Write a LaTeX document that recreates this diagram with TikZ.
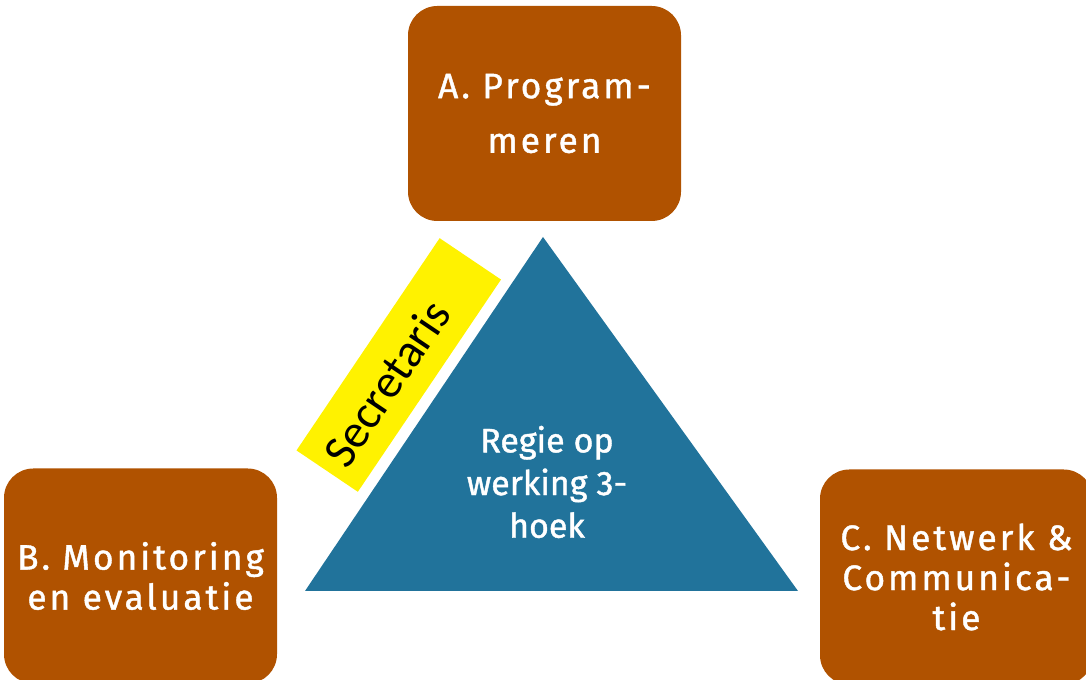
\documentclass[tikz,border=0pt]{standalone}
\usepackage{fontspec}
\setmainfont[FakeBold=1.2]{Fira Sans}
\newfontfamily\boxfont[LetterSpace=8.5,FakeBold=1.2]{Fira Sans}
\newfontfamily\secfont{Carlito}
\definecolor{boxbrown}{RGB}{176,82,0}
\definecolor{triblue}{RGB}{33,115,155}

\begin{document}
\begin{tikzpicture}[x=0.75pt,y=0.75pt,
    box/.style={fill=boxbrown, rounded corners=22pt, minimum width=204.75pt,
      minimum height=161.25pt, text=white, align=center,
      font=\boxfont\fontsize{26.5}{30}\selectfont},
    boxA/.style={box, font=\boxfont\fontsize{26.5}{41}\selectfont}]
              \useasboundingbox (0,0) rectangle (1086,680);

              \node[boxA] (A) at (544.5,566.5) {A. Program-\\meren};
              \node[box]  (B) at (140.5,104)   {B. Monitoring\\en evaluatie};
              \node[box]  (C) at (956.5,103)   {C. Netwerk \&\\Communica-\\tie};

              \coordinate (T1) at (543,443);
              \coordinate (T2) at (305,89);
              \coordinate (T3) at (798,89);
              \fill[triblue] (T1) -- (T2) -- (T3) -- cycle;

              \node[text=white, align=center, font=\fontsize{25.5}{32}\selectfont] (R) at (547,198)
                {Regie op\\werking 3-\\hoek};
              \node[fill=yellow, rotate=56, minimum width=192pt, minimum height=55.5pt,
                inner xsep=9pt, inner ysep=0pt, text width=174pt, align=left,
                font=\secfont\fontsize{35.5}{38}\selectfont] (S) at (398.75,315)
                {Secretaris};
          \end{tikzpicture}
\end{document}
